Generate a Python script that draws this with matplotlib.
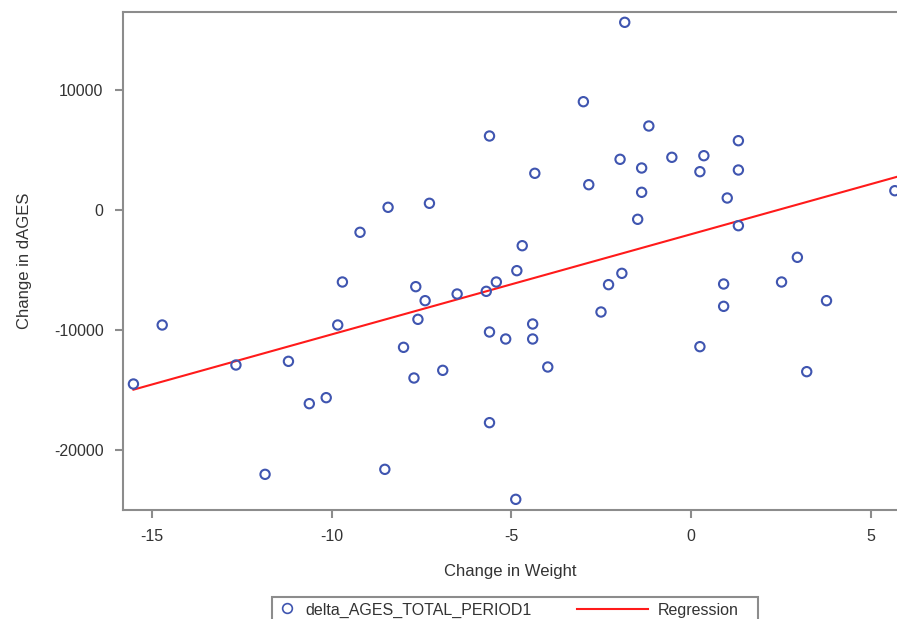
import numpy as np
import matplotlib
matplotlib.use("Agg")
import matplotlib.pyplot as plt
from matplotlib.patches import Rectangle
from matplotlib.lines import Line2D

plt.rcParams['font.family'] = ['Liberation Sans', 'DejaVu Sans']
plt.rcParams['axes.unicode_minus'] = False

# change in weight vs change in dAGES
weight = [-1.85, -3.00, -1.18, -5.61, 1.31, -1.98, -0.54, 0.35, -1.38, 0.24,
          1.31, -4.35, -2.85, -1.38, 1.00, 5.66, -8.43, -7.28, -1.49, 1.31,
          -9.21, -4.70, 2.95, -1.93, -4.85, -5.42, -9.70, -7.66, -2.30, -5.70,
          -6.51, 2.51, 0.90, -7.40, 3.76, -7.60, -2.51, -4.41, -14.71, -9.83,
          0.90, -5.61, -5.16, -4.41, -8.00, 0.24, -12.66, -11.20, -15.51, -6.91,
          -7.71, -3.99, 3.21, -10.62, -10.15, -5.61, -11.85, -8.52, -4.88]
dages = [15640, 9025, 7000, 6167, 5775, 4225, 4392, 4525, 3500, 3192,
         3333, 3058, 2108, 1475, 1000, 1608, 225, 558, -775, -1308,
         -1858, -2975, -3942, -5278, -5056, -6000, -6000, -6389, -6222, -6778,
         -7000, -6000, -6167, -7556, -7556, -9111, -8500, -9500, -9583, -9583,
         -8028, -10167, -10750, -10750, -11444, -11389, -12917, -12611, -14500, -13361,
         -14000, -13083, -13472, -16139, -15639, -17722, -22028, -21611, -24111]

xticks = [-15, -10, -5, 0, 5]
yticks = [-20000, -10000, 0, 10000]

W, H = 897, 619
fig = plt.figure(figsize=(W / 100, H / 100), dpi=100)
ax = fig.add_axes([123 / W, 1 - 510 / H, 1 - 123 / W, (510 - 12) / H])

grey = '#8c8c8c'
txt = '#333333'
blue = '#3f55b0'

ax.scatter(weight, dages, s=45, facecolors='none', edgecolors=blue, linewidths=1.5, zorder=3, clip_on=False)

slope, icpt = np.polyfit(weight, dages, 1)
xl = np.array([min(weight), 6.0])
ax.plot(xl, icpt + slope * xl, color='#ff1a1a', lw=1.5, zorder=2)

ax.set_xlim(-15.8, 5.72)
ax.set_ylim(-25000, 16500)
ax.set_xticks(xticks)
ax.set_yticks(yticks)

for s in ['left', 'bottom', 'top']:
    ax.spines[s].set_color(grey)
    ax.spines[s].set_linewidth(1.5)
ax.spines['right'].set_visible(False)
ax.tick_params(direction='out', length=6, width=1.5, color=grey, labelsize=11.5, labelcolor=txt, pad=8)

ax.set_xlabel('Change in Weight', fontsize=12, color=txt, labelpad=14)
ax.set_ylabel('Change in dAGES', fontsize=12, color=txt, labelpad=16)

# legend box at bottom (cut off by the image edge)
fig.patches.append(Rectangle((272 / W, -0.02), (758 - 272) / W, 0.02 + 1 - 597 / H,
                             transform=fig.transFigure, fill=False, ec=grey, lw=1.5))
fig.lines.append(Line2D([287 / W], [1 - 608 / H], transform=fig.transFigure, marker='o',
                        ms=7, mfc='none', mec=blue, mew=1.2, ls='none'))
fig.text(305 / W, 1 - 610 / H, 'delta_AGES_TOTAL_PERIOD1', fontsize=11.5, color=txt, va='center')
fig.lines.append(Line2D([577 / W, 648 / W], [1 - 609 / H] * 2, transform=fig.transFigure,
                        color='#ff1a1a', lw=1.5))
fig.text(658 / W, 1 - 610 / H, 'Regression', fontsize=11.5, color=txt, va='center')

fig.savefig('out.png', dpi=100)
